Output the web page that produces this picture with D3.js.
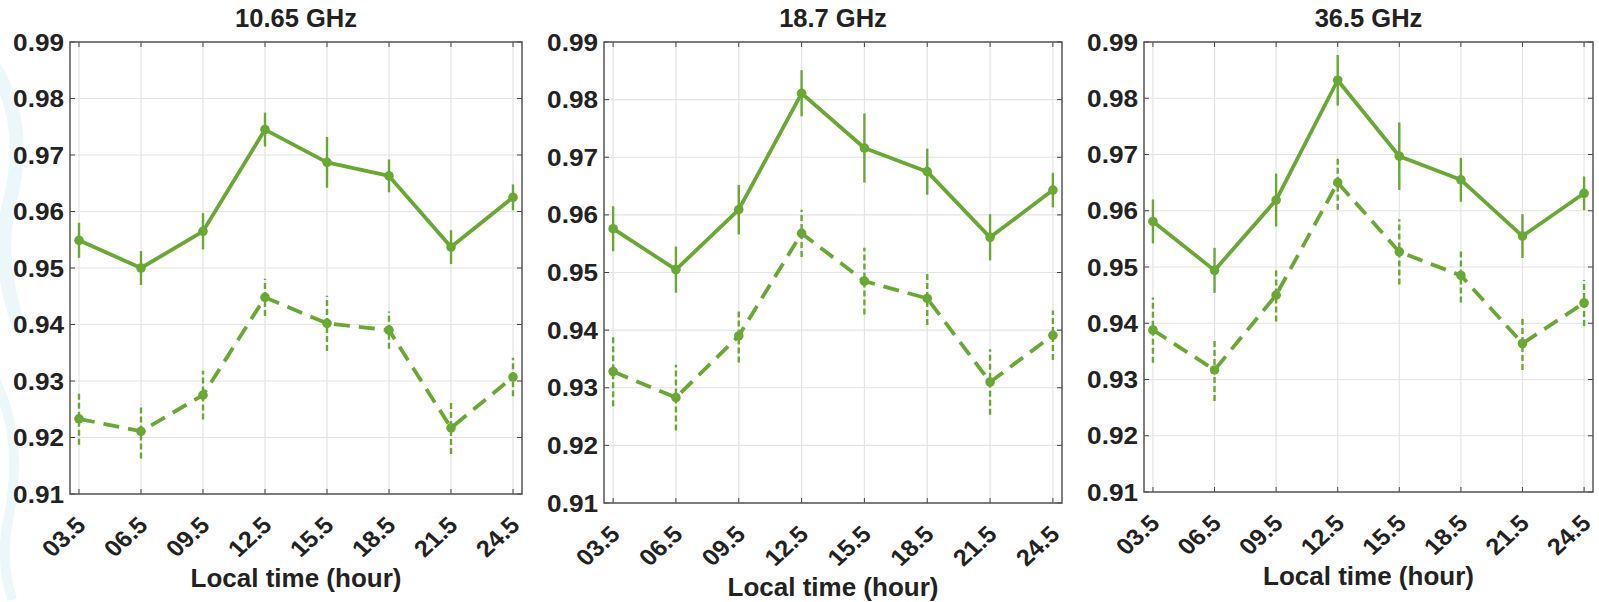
<!DOCTYPE html>
<html>
<head>
<meta charset="utf-8">
<script src="https://cdn.jsdelivr.net/npm/d3@7"></script>
<style>
  html, body { margin: 0; padding: 0; background: #fff; }
  svg { display: block; }
  text { font-family: "Liberation Sans", Arial, sans-serif; font-weight: bold; fill: #222; }
</style>
</head>
<body>
<svg width="1599" height="602"></svg>
<script>
// data
const hours = ["03.5", "06.5", "09.5", "12.5", "15.5", "18.5", "21.5", "24.5"];
const titles = ["10.65 GHz", "18.7 GHz", "36.5 GHz"];
const yTicks = [0.91, 0.92, 0.93, 0.94, 0.95, 0.96, 0.97, 0.98, 0.99];

const solid10 = [0.9549, 0.9500, 0.9565, 0.9745, 0.9687, 0.9663, 0.9537, 0.9625];
const solidErr10 = [0.0031, 0.0030, 0.0032, 0.0030, 0.0045, 0.0029, 0.0030, 0.0023];
const dashed10 = [0.9233, 0.9211, 0.9275, 0.9448, 0.9402, 0.9390, 0.9217, 0.9307];
const dashedErr10 = [0.0046, 0.0048, 0.0043, 0.0033, 0.0049, 0.0033, 0.0046, 0.0034];

const solid18 = [0.9576, 0.9505, 0.9609, 0.9811, 0.9716, 0.9675, 0.9561, 0.9643];
const solidErr18 = [0.0039, 0.0040, 0.0043, 0.0040, 0.0060, 0.0040, 0.0040, 0.0030];
const dashed18 = [0.9328, 0.9283, 0.9390, 0.9568, 0.9485, 0.9455, 0.9310, 0.9391];
const dashedErr18 = [0.0060, 0.0057, 0.0046, 0.0041, 0.0058, 0.0046, 0.0057, 0.0043];

const solid36 = [0.9581, 0.9494, 0.9619, 0.9832, 0.9697, 0.9655, 0.9555, 0.9631];
const solidErr36 = [0.0039, 0.0040, 0.0047, 0.0045, 0.0060, 0.0039, 0.0039, 0.0030];
const dashed36 = [0.9388, 0.9317, 0.9450, 0.9650, 0.9527, 0.9485, 0.9364, 0.9436];
const dashedErr36 = [0.0058, 0.0055, 0.0047, 0.0048, 0.0058, 0.0048, 0.0047, 0.0041];

const seriesByPanel = [
  [{ v: solid10, e: solidErr10, dashed: false }, { v: dashed10, e: dashedErr10, dashed: true }],
  [{ v: solid18, e: solidErr18, dashed: false }, { v: dashed18, e: dashedErr18, dashed: true }],
  [{ v: solid36, e: solidErr36, dashed: false }, { v: dashed36, e: dashedErr36, dashed: true }]
];

// layout
const layout = [
  { left: 70, right: 522, top: 42, bottom: 494, xlabelY: 587 },
  { left: 604, right: 1062, top: 42, bottom: 503, xlabelY: 596 },
  { left: 1144, right: 1593, top: 42, bottom: 492, xlabelY: 585 }
];
const green = "#6aa834";

const svg = d3.select("svg");

// faint watermark arcs at the left edge
const deco = svg.append("g").attr("fill", "none").attr("stroke", "#ecf7f9");
deco.append("path").attr("stroke-width", 14)
  .attr("d", "M-10,60 Q30,120 10,200 Q-5,260 20,330");
deco.append("path").attr("stroke-width", 10)
  .attr("d", "M-5,380 Q25,440 8,520 Q0,560 12,600");

layout.forEach((p, i) => {
  const g = svg.append("g");
  const x = d3.scalePoint().domain(hours).range([p.left, p.right]).padding(0.145);
  const y = d3.scaleLinear().domain([0.91, 0.99]).range([p.bottom, p.top]);

  // grid
  g.append("g").selectAll("line").data(hours).join("line")
    .attr("x1", d => x(d)).attr("x2", d => x(d))
    .attr("y1", p.top).attr("y2", p.bottom)
    .attr("stroke", "#e3e3e3").attr("stroke-width", 1.2);
  g.append("g").selectAll("line").data(yTicks).join("line")
    .attr("x1", p.left).attr("x2", p.right)
    .attr("y1", d => y(d)).attr("y2", d => y(d))
    .attr("stroke", "#e3e3e3").attr("stroke-width", 1.2);

  // inward ticks on all four sides
  const tk = g.append("g").attr("stroke", "#444").attr("stroke-width", 1);
  hours.forEach(h => {
    tk.append("line").attr("x1", x(h)).attr("x2", x(h)).attr("y1", p.bottom).attr("y2", p.bottom - 5);
    tk.append("line").attr("x1", x(h)).attr("x2", x(h)).attr("y1", p.top).attr("y2", p.top + 5);
  });
  yTicks.forEach(t => {
    tk.append("line").attr("x1", p.left).attr("x2", p.left + 5).attr("y1", y(t)).attr("y2", y(t));
    tk.append("line").attr("x1", p.right).attr("x2", p.right - 5).attr("y1", y(t)).attr("y2", y(t));
  });

  // box
  g.append("rect")
    .attr("x", p.left).attr("y", p.top)
    .attr("width", p.right - p.left).attr("height", p.bottom - p.top)
    .attr("fill", "none").attr("stroke", "#555").attr("stroke-width", 1.5);

  // y tick labels (slightly wide, like the source)
  g.append("g").selectAll("text").data(yTicks).join("text")
    .attr("transform", d => `translate(${p.left - 6},${y(d)}) scale(1.09,1)`)
    .attr("text-anchor", "end").attr("dominant-baseline", "central")
    .attr("font-size", 24)
    .text(d => d3.format(".2f")(d));

  // x tick labels, rotated
  g.append("g").selectAll("text").data(hours).join("text")
    .attr("transform", d => `translate(${x(d) + 2},${p.bottom + 27}) scale(1.1,1) rotate(-45)`)
    .attr("text-anchor", "end").attr("dominant-baseline", "central")
    .attr("font-size", 23)
    .text(d => d);

  // title and x label
  const cx = (p.left + p.right) / 2;
  g.append("text").attr("x", cx).attr("y", 27).attr("text-anchor", "middle")
    .attr("font-size", 25.5).text(titles[i]);
  g.append("text").attr("x", cx).attr("y", p.xlabelY).attr("text-anchor", "middle")
    .attr("font-size", 26).text("Local time (hour)");

  // series
  seriesByPanel[i].forEach(s => {
    const pts = hours.map((h, j) => ({ h: h, v: s.v[j], e: s.e[j] }));
    const line = d3.line().x(d => x(d.h)).y(d => y(d.v));
    g.append("path").datum(pts)
      .attr("d", line).attr("fill", "none")
      .attr("stroke", green).attr("stroke-width", 3.8)
      .attr("stroke-linejoin", "round")
      .attr("stroke-dasharray", s.dashed ? "16,9" : null);
    g.append("g").selectAll("line").data(pts).join("line")
      .attr("x1", d => x(d.h)).attr("x2", d => x(d.h))
      .attr("y1", d => y(d.v - d.e)).attr("y2", d => y(d.v + d.e))
      .attr("stroke", green).attr("stroke-width", 2.4)
      .attr("stroke-dasharray", s.dashed ? "6,3" : null);
    g.append("g").selectAll("circle").data(pts).join("circle")
      .attr("cx", d => x(d.h)).attr("cy", d => y(d.v)).attr("r", 4.8)
      .attr("fill", green);
  });
});
</script>
</body>
</html>
